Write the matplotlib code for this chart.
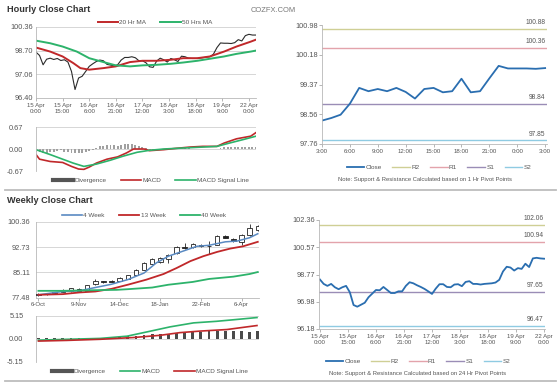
import matplotlib.pyplot as plt
import numpy as np
from matplotlib.lines import Line2D

plt.rcParams['font.family'] = ['Liberation Sans', 'DejaVu Sans']

W, H = 560, 386
GRID = '#d0d0d0'
TXT = '#555555'
RED = '#c0282a'
GREEN = '#2db36b'
BLUE = '#2a6eb0'

# ---- hourly close (15 Apr - 22 Apr), every 2 hours ----
hour_ticks = [0, 15, 30, 45, 60, 75, 90, 105, 120]
hour_labels = ['15 Apr\n0:00', '15 Apr\n15:00', '16 Apr\n6:00', '16 Apr\n21:00',
               '17 Apr\n12:00', '18 Apr\n3:00', '18 Apr\n18:00', '19 Apr\n9:00',
               '22 Apr\n0:00']
close_hours = list(range(0, 125, 2))
hourly_close = [98.61, 98.38, 97.73, 98.12, 98.19, 98.10, 98.17, 98.03, 98.08, 97.92,
                97.27, 96.01, 96.81, 96.93, 97.27, 97.62, 97.80, 97.96, 98.06, 98.01,
                97.76, 97.71, 97.66, 97.73, 98.06, 98.24, 98.24, 98.29, 98.22, 98.01,
                98.01, 97.87, 97.59, 97.55, 97.99, 98.19, 98.08, 97.92, 98.17, 98.08,
                97.96, 98.33, 98.29, 98.19, 98.17, 98.17, 98.19, 98.22, 98.26, 98.29,
                98.47, 98.93, 99.25, 99.23, 99.23, 99.21, 99.27, 99.48, 99.39, 99.76,
                99.85, 99.80, 99.80]
ma20_hours = [0, 8, 15, 21, 25, 30, 38, 45, 53, 60, 68, 76, 83, 91, 98, 106, 113, 121, 124]
ma20 = [98.93, 98.65, 98.31, 97.85, 97.50, 97.39, 97.50, 97.62, 97.92, 98.01,
        98.01, 98.08, 98.19, 98.19, 98.31, 98.65, 99.00, 99.34, 99.48]
ma50_hours = [0, 8, 15, 23, 30, 38, 45, 53, 60, 68, 76, 83, 91, 98, 106, 113, 121, 124]
ma50 = [99.41, 99.23, 99.00, 98.65, 98.19, 97.92, 97.69, 97.62, 97.69, 97.73,
        97.80, 97.89, 98.01, 98.15, 98.31, 98.49, 98.65, 98.72]
hl_ticks = [100.36, 98.70, 97.06, 95.42]
hl_labels = ['100.36', '98.70', '97.06', '96.40']

# hourly MACD
macd_h_hours = [0, 2, 8, 15, 20, 24, 27, 30, 34, 40, 46, 51, 55, 61, 64, 72, 79, 87,
                94, 102, 106, 113, 121, 124]
macd_h = [-0.17, -0.31, -0.38, -0.41, -0.53, -0.61, -0.62, -0.55, -0.43, -0.31, -0.24,
          -0.12, 0.0, 0.0, -0.05, -0.02, 0.02, 0.06, 0.08, 0.08, 0.18, 0.31, 0.39, 0.50]
sig_h_hours = [0, 8, 15, 21, 27, 34, 42, 49, 57, 64, 72, 87, 102, 109, 117, 124]
sig_h = [-0.02, -0.17, -0.31, -0.43, -0.53, -0.46, -0.34, -0.22, -0.10, -0.04, 0.0,
         0.04, 0.08, 0.18, 0.29, 0.39]
div_h = [-0.08, -0.10, -0.12, -0.12,
         -0.10, -0.10, -0.06, -0.04, -0.08,
         -0.10, -0.12, -0.12, -0.13, -0.12, -0.10, -0.06, -0.02,
         0.04, 0.08, 0.10, 0.11, 0.12,
         0.12, 0.10, 0.12, 0.14, 0.15, 0.14, 0.12, 0.10, 0.06, 0.03,
         -0.02, -0.03, -0.03, -0.02, 0.00, 0.02, 0.02, 0.01, 0.00, 0.01,
         0.02, 0.02, 0.01, 0.00, 0.01, 0.01, 0.00, 0.00, 0.01, 0.00,
         0.04, 0.06, 0.07, 0.06, 0.05, 0.06, 0.07, 0.06, 0.05, 0.05, 0.06]

# ---- weekly candles (28 weeks) ----
week_ticks = [0, 5, 10, 15, 20, 25]
week_labels = ['6-Oct', '9-Nov', '14-Dec', '18-Jan', '22-Feb', '6-Apr']
w_open = [78.4, 78.6, 78.8, 79.2, 79.3, 80.2, 79.6, 81.5, 82.4, 82.6, 82.6, 83.2, 84.4, 85.9,
          87.7, 88.3, 89.2, 90.9, 92.9, 92.7, 93.4, 93.0, 93.5, 96.1, 95.2, 94.3, 96.4, 97.8]
w_close = [78.1, 78.4, 79.0, 79.6, 80.3, 79.6, 81.2, 82.5, 82.2, 82.3, 83.4, 84.2, 85.9, 87.9,
           89.0, 89.5, 90.3, 92.7, 92.6, 93.7, 93.0, 93.2, 96.1, 95.6, 94.5, 96.3, 98.4, 99.1]
w_high = [78.7, 78.8, 79.2, 80.2, 80.5, 80.4, 81.4, 83.0, 82.6, 82.8, 83.6, 84.4, 86.2, 88.2,
          89.4, 89.9, 90.6, 93.0, 93.9, 94.0, 93.6, 94.6, 96.4, 96.4, 95.5, 96.6, 99.8, 99.4]
w_low = [77.9, 78.2, 78.6, 79.0, 79.2, 79.5, 79.5, 81.3, 82.0, 82.1, 82.4, 83.0, 84.2, 85.8,
         87.5, 88.0, 87.8, 90.6, 92.2, 92.5, 92.9, 90.7, 93.3, 95.4, 94.3, 93.5, 96.2, 97.6]
ma4_w = [0, 3, 5, 7, 9, 11, 13, 14.5, 16, 18, 19.5, 21, 23, 24.5, 26, 27]
ma4 = [78.3, 79.3, 79.5, 80.5, 81.5, 82.9, 84.9, 87.95, 90.0, 91.7, 93.0, 93.3, 94.35,
       94.6, 95.6, 96.8]
ma13_w = [0, 3, 5, 7, 9, 11, 13.3, 15.4, 17, 18.7, 20.3, 22, 23.6, 25.2, 27]
ma13 = [78.3, 78.5, 79.0, 79.3, 80.1, 81.35, 82.9, 84.6, 86.4, 88.5, 90.0, 91.3, 92.3,
        93.0, 94.35]
ma40_w = [0, 3, 7, 9.6, 11, 14, 16, 19, 21, 24, 26, 27]
ma40 = [79.5, 79.5, 79.7, 79.8, 80.0, 80.5, 81.35, 82.2, 83.1, 83.8, 84.6, 85.2]
wk_ticks = [100.36, 92.73, 85.11, 77.48]

# weekly MACD
macd_w_x = [0, 3.5, 7.6, 10.9, 13.7, 16.2, 19.1, 21.9, 24, 26.9]
macd_w = [-0.3, -0.1, 0.1, 0.6, 1.7, 2.7, 3.6, 3.95, 4.3, 4.8]
sig_w_x = [0, 3.5, 7.6, 11.7, 15, 17.4, 19.9, 23.2, 26.9]
sig_w = [-0.5, -0.35, -0.1, 0.3, 0.8, 1.4, 1.75, 2.1, 3.0]
div_w = [0.1, 0.1, 0.1, 0.1, 0.1, 0.15, 0.2, 0.2, 0.25, 0.3, 0.4, 0.55, 0.7, 0.9,
         1.0, 1.1, 1.2, 1.35, 1.45, 1.55, 1.6, 1.7, 1.75, 1.8, 1.75, 1.7, 1.65, 1.7]

# ---- 1 hr pivots (last 24 hours) ----
day_ticks = [0, 3, 6, 9, 12, 15, 18, 21, 24]
day_labels = ['3:00', '6:00', '9:00', '12:00', '15:00', '18:00', '21:00', '0:00', '3:00']
day_close = [98.39, 98.46, 98.55, 98.85, 99.28, 99.19, 99.25, 99.19, 99.28, 99.17, 98.99,
             99.25, 99.28, 99.16, 99.19, 99.53, 99.16, 99.19, 99.54, 99.88, 99.81, 99.81,
             99.81, 99.80, 99.82]
d_ticks = [100.98, 100.18, 99.37, 98.56, 97.76]
pivot1 = [100.88, 100.36, 98.84, 97.85]
pivot1_labels = ['100.88', '100.36', '98.84', '97.85']

# ---- 24 hr pivots (15 Apr - 22 Apr, every 2 hours) ----
close24_hours = list(range(0, 121, 2))
close24 = [98.44, 98.15, 98.02, 98.15, 97.93, 97.80, 97.93, 98.02, 97.60, 96.76,
           96.65, 96.78, 96.91, 97.27, 97.51, 97.75, 97.73, 97.95, 97.75, 97.55,
           97.55, 97.66, 97.66, 98.02, 98.26, 98.19, 98.06, 97.95, 97.82, 97.66,
           97.49, 97.84, 98.13, 98.13, 97.95, 97.93, 98.11, 98.13, 98.00, 98.28,
           98.33, 98.15, 98.15, 98.11, 98.15, 98.17, 98.19, 98.24, 98.42, 98.97,
           99.28, 99.23, 99.03, 99.19, 99.14, 99.48, 99.26, 99.83, 99.87, 99.83,
           99.81]
r_ticks = [102.36, 100.57, 98.77, 96.98, 95.18]
r_labels = ['102.36', '100.57', '98.77', '96.98', '96.18']
pivot24 = [102.06, 100.94, 97.65, 95.40]
pivot24_labels = ['102.06', '100.94', '97.65', '96.47']

piv_names = ['R2', 'R1', 'S1', 'S2']
piv_colors = ['#cfcf95', '#e3a3ab', '#9a8db6', '#8fcbe2']

fig = plt.figure(figsize=(W / 100, H / 100), dpi=100)


def px_axes(x0, y0, x1, y1):
    return fig.add_axes([x0 / W, 1 - y1 / H, (x1 - x0) / W, (y1 - y0) / H])


def style(ax, ypad=2):
    for s in ['top', 'right']:
        ax.spines[s].set_visible(False)
    for s in ['left', 'bottom']:
        ax.spines[s].set_color('#b8b8b8')
        ax.spines[s].set_linewidth(0.6)
    ax.tick_params(axis='x', labelsize=4.4, colors=TXT, length=2, width=0.5,
                   color='#999999', pad=1.5)
    ax.tick_params(axis='y', labelsize=5.3, colors=TXT, length=0, pad=ypad)
    ax.set_axisbelow(True)


def legend(handles, labels, cx, cy, fs=4.6, hl=3.2, cs=2.2):
    fig.legend(handles, labels, loc='center', bbox_to_anchor=(cx / W, 1 - cy / H),
               ncol=len(handles), frameon=False, fontsize=fs, handlelength=hl,
               columnspacing=cs, handletextpad=0.2, labelcolor=TXT)


def pivot_lines(ax, levels, texts):
    for lv, tx, c in zip(levels, texts, piv_colors):
        ax.axhline(lv, color=c, lw=1.0)
        ax.annotate(tx, xy=(1.0, lv), xycoords=('axes fraction', 'data'),
                    xytext=(-1, 2), textcoords='offset points', ha='right',
                    va='bottom', fontsize=4.8, color=TXT, annotation_clip=False)


# titles
fig.text(7 / W, 1 - 9.5 / H, 'Hourly Close Chart', fontsize=6.6, fontweight='bold',
         color='#333333', va='center')
fig.text(7 / W, 1 - 201 / H, 'Weekly Close Chart', fontsize=6.6, fontweight='bold',
         color='#333333', va='center')
fig.text(273 / W, 1 - 10 / H, 'COZFX.COM', fontsize=5.4, color='#777777',
         ha='center', va='center')
for yy in [190, 381]:
    fig.add_artist(Line2D([5 / W, 556 / W], [1 - yy / H] * 2, color='#bdbdbd', lw=1.3))

# hourly price
ax = px_axes(36, 27, 256, 98)
style(ax)
ax.plot(close_hours, hourly_close, color='#2b2b2b', lw=0.8)
ax.plot(ma20_hours, ma20, color=RED, lw=1.4)
ax.plot(ma50_hours, ma50, color=GREEN, lw=1.4)
ax.set_xlim(0, 124)
ax.set_ylim(95.42, 100.36)
ax.set_yticks(hl_ticks, hl_labels)
ax.set_xticks(hour_ticks, hour_labels)
ax.yaxis.grid(True, color=GRID, lw=0.6)
legend([Line2D([], [], color=RED, lw=1.4), Line2D([], [], color=GREEN, lw=1.4)],
       ['20 Hr MA', '50 Hrs MA'], 155, 22)

# hourly MACD
ax = px_axes(36, 127, 256, 171)
style(ax, ypad=9)
ax.bar(close_hours, div_h, width=1.1, color='#a0a0a0', lw=0)
ax.plot(macd_h_hours, macd_h, color=RED, lw=1.2)
ax.plot(sig_h_hours, sig_h, color=GREEN, lw=1.2)
ax.set_xlim(0, 124)
ax.set_ylim(-0.67, 0.67)
ax.set_yticks([0.67, 0.0, -0.67], ['0.67', '0.00', '-0.67'])
ax.set_xticks([])
ax.yaxis.grid(True, color=GRID, lw=0.6)
ax.spines['bottom'].set_visible(False)
legend([Line2D([], [], color='#555555', lw=3), Line2D([], [], color=RED, lw=1.2),
        Line2D([], [], color=GREEN, lw=1.2)],
       ['Divergence', 'MACD', 'MACD Signal Line'], 151, 180)

# weekly candles
ax = px_axes(36, 222, 259, 297.5)
style(ax, ypad=4)
wx = np.arange(len(w_open))
o = np.array(w_open)
c = np.array(w_close)
ax.vlines(wx, w_low, w_high, color='#222222', lw=0.6, zorder=2)
ax.bar(wx, np.abs(c - o), bottom=np.minimum(o, c), width=0.55,
       color=np.where(c >= o, 'white', '#222222'), edgecolor='#222222', lw=0.6, zorder=3)
ax.plot(ma4_w, ma4, color='#5a8ac2', lw=1.1, zorder=4)
ax.plot(ma13_w, ma13, color=RED, lw=1.3, zorder=4)
ax.plot(ma40_w, ma40, color=GREEN, lw=1.3, zorder=4)
ax.set_xlim(-0.3, 27.15)
ax.set_ylim(77.48, 100.36)
ax.set_yticks(wk_ticks, ['%.2f' % v for v in wk_ticks])
ax.set_xticks(week_ticks, week_labels)
ax.yaxis.grid(True, color=GRID, lw=0.6)
legend([Line2D([], [], color='#5a8ac2', lw=1.2), Line2D([], [], color=RED, lw=1.3),
        Line2D([], [], color=GREEN, lw=1.3)], ['4 Week', '13 Week', '40 Week'], 144, 215)

# weekly MACD
ax = px_axes(36, 316, 259, 361.7)
style(ax, ypad=9)
ax.bar(wx, div_w, width=0.35, color='#4a4a4a', lw=0)
ax.plot(macd_w_x, macd_w, color=GREEN, lw=1.2)
ax.plot(sig_w_x, sig_w, color=RED, lw=1.2)
ax.set_xlim(-0.3, 27.15)
ax.set_ylim(-5.15, 5.15)
ax.set_yticks([5.15, 0.0, -5.15], ['5.15', '0.00', '-5.15'])
ax.set_xticks([])
ax.yaxis.grid(True, color=GRID, lw=0.6)
ax.spines['bottom'].set_visible(False)
legend([Line2D([], [], color='#555555', lw=3), Line2D([], [], color=GREEN, lw=1.2),
        Line2D([], [], color=RED, lw=1.2)],
       ['Divergence', 'MACD', 'MACD Signal Line'], 150, 371)

# 1 hr pivot chart
ax = px_axes(322, 25.5, 547, 143.7)
style(ax, ypad=1)
ax.tick_params(axis='y', length=2, color='#999999', width=0.5)
pivot_lines(ax, pivot1, pivot1_labels)
ax.plot(range(len(day_close)), day_close, color=BLUE, lw=1.3)
ax.set_xlim(0, 24.2)
ax.set_ylim(97.76, 100.98)
ax.set_yticks(d_ticks, ['%.2f' % v for v in d_ticks])
ax.set_xticks(day_ticks, day_labels)
hdl = [Line2D([], [], color=BLUE, lw=1.3)] + [Line2D([], [], color=cc, lw=1) for cc in piv_colors]
legend(hdl, ['Close'] + piv_names, 439, 167, hl=2.8, cs=1.6)
fig.text(425 / W, 1 - 180 / H, 'Note: Support & Resistance Calculated based on 1 Hr Pivot Points',
         fontsize=4.2, color=TXT, ha='center', va='center')

# 24 hr pivot chart
ax = px_axes(319, 220, 545, 329)
style(ax, ypad=1)
ax.tick_params(axis='y', length=2, color='#999999', width=0.5)
pivot_lines(ax, pivot24, pivot24_labels)
ax.plot(close24_hours, close24, color=BLUE, lw=1.3)
ax.set_xlim(-0.5, 120.5)
ax.set_ylim(95.18, 102.36)
ax.set_yticks(r_ticks, r_labels)
ax.set_xticks(hour_ticks, hour_labels)
legend(hdl, ['Close'] + piv_names, 418, 361, hl=2.8, cs=1.6)
fig.text(418 / W, 1 - 373 / H, 'Note: Support & Resistance Calculated based on 24 Hr Pivot Points',
         fontsize=4.2, color=TXT, ha='center', va='center')

fig.savefig('out.png', dpi=100)
